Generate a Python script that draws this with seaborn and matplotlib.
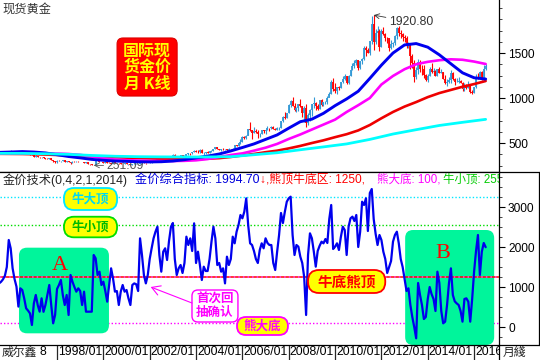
import numpy as np
import pandas as pd
import matplotlib
matplotlib.use("Agg")
import matplotlib.pyplot as plt
import matplotlib.transforms as mtransforms
from matplotlib.patches import FancyBboxPatch
from matplotlib.lines import Line2D
from matplotlib.ticker import MultipleLocator
import seaborn as sns

sns.set_style("white")
plt.rcParams['font.family'] = ['Liberation Sans', 'Noto Sans CJK SC', 'DejaVu Sans']
plt.rcParams['axes.unicode_minus'] = False

# ---------------- data (monthly, 1995/07 .. 2016/07) ----------------
close = [
    383, 382, 384, 383, 387, 387,
    405, 400, 396, 392, 390, 382, 385, 387, 379, 379, 371, 369,
    345, 358, 349, 340, 345, 334, 326, 325, 332, 311, 296, 290,
    304, 297, 301, 310, 293, 296, 288, 273, 294, 292, 294, 288,
    287, 287, 280, 286, 268, 262, 255, 255, 299, 299, 291, 290,
    283, 293, 279, 275, 272, 288, 276, 277, 273, 264, 269, 274,
    266, 267, 258, 263, 267, 270, 265, 273, 293, 279, 275, 277,
    282, 297, 301, 308, 326, 318, 304, 312, 324, 317, 319, 347,
    368, 347, 334, 336, 364, 346, 354, 375, 388, 386, 398, 416,
    399, 396, 427, 388, 393, 395, 391, 407, 415, 429, 452, 438,
    422, 435, 428, 435, 417, 435, 429, 433, 473, 470, 495, 513,
    569, 556, 582, 654, 643, 614, 633, 623, 599, 604, 646, 632,
    650, 665, 662, 678, 659, 648, 666, 672, 743, 789, 783, 834,
    923, 971, 916, 863, 885, 930, 913, 833, 884, 718, 815, 869,
    928, 942, 916, 883, 975, 927, 954, 955, 995, 1040, 1182, 1096,
    1081, 1118, 1113, 1180, 1213, 1244, 1169, 1248, 1307, 1358, 1386, 1421,
    1332, 1411, 1439, 1556, 1536, 1500, 1628, 1826, 1620, 1722, 1746, 1564,
    1740, 1711, 1669, 1664, 1559, 1604, 1614, 1688, 1773, 1719, 1713, 1675,
    1664, 1578, 1596, 1472, 1393, 1234, 1313, 1395, 1327, 1323, 1253, 1202,
    1244, 1326, 1284, 1296, 1250, 1322, 1282, 1287, 1211, 1172, 1182, 1199,
    1283, 1213, 1183, 1183, 1190, 1172, 1095, 1134, 1115, 1142, 1065, 1061,
    1118, 1238, 1233, 1290, 1215, 1320, 1351,
]
high = [
    388, 388, 387, 387, 390, 392,
    417, 416, 401, 397, 394, 391, 388, 390, 388, 384, 384, 373,
    368, 366, 355, 347, 348, 346, 335, 332, 337, 336, 315, 298,
    306, 306, 303, 314, 310, 299, 296, 292, 300, 302, 298, 296,
    292, 290, 289, 291, 290, 265, 264, 260, 300, 338, 300, 293,
    294, 313, 298, 287, 281, 292, 290, 280, 278, 275, 270, 275,
    273, 268, 268, 267, 290, 278, 271, 281, 294, 293, 280, 279,
    290, 300, 304, 310, 328, 330, 323, 316, 326, 325, 323, 350,
    375, 383, 352, 340, 371, 368, 362, 375, 392, 392, 400, 418,
    427, 417, 430, 432, 396, 405, 410, 412, 417, 432, 456, 458,
    438, 438, 447, 437, 436, 443, 430, 448, 475, 478, 497, 541,
    573, 574, 590, 657, 730, 650, 677, 653, 640, 614, 646, 648,
    654, 687, 670, 692, 686, 670, 681, 676, 744, 795, 845, 836,
    934, 975, 1011, 946, 905, 939, 987, 915, 913, 936, 828, 880,
    936, 1006, 960, 929, 982, 990, 958, 966, 1024, 1070, 1195, 1227,
    1162, 1125, 1137, 1181, 1249, 1265, 1246, 1252, 1310, 1388, 1424, 1431,
    1424, 1411, 1447, 1576, 1577, 1552, 1632, 1912, 1921, 1764, 1804, 1763,
    1763, 1791, 1720, 1677, 1667, 1640, 1627, 1695, 1790, 1798, 1754, 1723,
    1696, 1684, 1617, 1605, 1487, 1424, 1347, 1434, 1425, 1362, 1362, 1267,
    1270, 1345, 1392, 1331, 1315, 1325, 1345, 1322, 1287, 1255, 1208, 1238,
    1307, 1294, 1223, 1224, 1232, 1205, 1175, 1170, 1157, 1191, 1142, 1088,
    1123, 1263, 1282, 1303, 1304, 1362, 1375,
]
low = [
    381, 380, 380, 381, 380, 384,
    385, 397, 393, 388, 389, 380, 380, 384, 377, 377, 370, 366,
    343, 340, 346, 337, 339, 333, 318, 319, 319, 310, 294, 283,
    278, 295, 290, 300, 292, 290, 287, 271, 276, 290, 290, 285,
    284, 285, 278, 278, 267, 256, 252, 251, 254, 296, 288, 286,
    282, 283, 276, 273, 271, 273, 276, 272, 270, 263, 262, 268,
    263, 255, 256, 256, 262, 266, 264, 264, 270, 278, 272, 274,
    277, 282, 290, 300, 307, 315, 302, 301, 310, 315, 314, 318,
    344, 345, 324, 319, 335, 341, 340, 352, 371, 371, 378, 398,
    398, 393, 392, 386, 372, 382, 386, 389, 402, 411, 428, 433,
    418, 413, 424, 423, 414, 415, 418, 430, 433, 463, 468, 490,
    513, 540, 540, 584, 636, 542, 612, 611, 560, 564, 603, 611,
    603, 646, 636, 661, 654, 641, 644, 649, 672, 728, 772, 781,
    830, 895, 912, 855, 849, 861, 901, 786, 737, 681, 698, 744,
    800, 890, 865, 865, 880, 915, 908, 938, 934, 1017, 1040, 1075,
    1059, 1045, 1088, 1114, 1164, 1201, 1157, 1155, 1242, 1309, 1330, 1370,
    1309, 1327, 1382, 1420, 1462, 1496, 1478, 1603, 1535, 1603, 1681, 1523,
    1563, 1697, 1628, 1616, 1527, 1540, 1563, 1590, 1651, 1691, 1671, 1636,
    1627, 1555, 1555, 1321, 1339, 1180, 1208, 1272, 1292, 1251, 1227, 1187,
    1182, 1240, 1277, 1268, 1241, 1240, 1281, 1275, 1206, 1161, 1131, 1171,
    1167, 1197, 1142, 1175, 1170, 1162, 1077, 1077, 1098, 1107, 1052, 1046,
    1061, 1111, 1208, 1209, 1199, 1200, 1310,
]

# moving-average lines (month index, price)
blue_x = [0, 6, 12, 18, 24, 30, 36, 42, 48, 54, 60, 66, 72, 78, 84, 90, 96, 102, 108, 114,
          120, 126, 132, 138, 144, 150, 156, 162, 168, 174, 180, 186, 192, 198, 204, 210,
          216, 222, 228, 234, 240, 246, 252]
blue_y = [396, 400, 405, 400, 390, 370, 350, 335, 318, 308, 300, 296, 292, 290, 292, 300, 315, 335, 355, 378,
          412, 450, 490, 540, 590, 665, 737, 765, 830, 915, 990, 1075, 1218, 1365, 1500, 1590,
          1605, 1565, 1480, 1380, 1280, 1225, 1211]
mag_x = [0, 12, 24, 30, 36, 42, 48, 54, 60, 66, 72, 78, 84, 90, 96, 102, 108, 114, 120, 126,
         132, 138, 144, 150, 156, 162, 168, 174, 180, 186, 192, 198, 204, 210, 216, 222,
         228, 234, 240, 246, 252]
mag_y = [385, 386, 385, 383, 378, 368, 350, 330, 316, 310, 305, 302, 300, 300, 302, 308, 322, 345, 367, 385,
         415, 448, 490, 545, 595, 650, 705, 760, 845, 920, 1000, 1150, 1245, 1320, 1375, 1402,
         1420, 1430, 1425, 1405, 1378]
red_x = [0, 12, 24, 36, 48, 60, 72, 84, 96, 108, 114, 120, 126, 132, 138, 144, 150, 156, 162,
         168, 174, 180, 186, 192, 198, 204, 210, 216, 222, 228, 234, 240, 246, 252]
red_y = [380, 378, 372, 362, 352, 342, 333, 325, 320, 326, 332, 345, 362, 378, 398, 415, 440, 468, 500,
         530, 565, 598, 640, 700, 775, 845, 905, 955, 1010, 1055, 1090, 1125, 1155, 1189]
cyan_x = [0, 12, 24, 36, 48, 60, 72, 84, 96, 108, 120, 132, 144, 156, 168, 180, 192, 204, 216,
          228, 240, 252]
cyan_y = [385, 385, 381, 374, 362, 353, 348, 346, 345, 345, 348, 370, 392, 425, 457, 490, 540, 600, 648,
          695, 730, 763]

# composite gold indicator (monthly)
indicator = [
    1090, 1130, 1190, 1280, 1500, 2175, 1967, 1467, 1200, 1010,
    510, 967, 925, 717, 467, 410, 340, 50, 590, 800,
    550, 383, 717, 380, 550, 800, 1050, 550, 92, 300,
    950, 1050, 1175, 800, 550, 800, 300, 1300, 1133, 1000,
    883, 967, 900, 550, 883, 383, 383, 383, 383, 1800,
    1717, 1300, 1383, 1050, 1133, 900, 633, 1050, 1467, 1217,
    883, 900, 550, 883, 1050,
    883, 925, 717, 550, 1050, 1090, 1070, 900, 2217, 1800,
    1300, 1090, 1300, 1700, 1967, 2217, 2383, 2508, 1800, 1383,
    1883, 1967, 1675, 2150, 2500, 2600, 1700, 1300, 1467, 1550,
    1350, 1600, 2258, 2050, 2217, 1900, 2592, 1600, 1883, 1550,
    1175, 1508, 1400, 1400, 1700, 2133, 2508, 2217, 1550, 1600,
    1383, 1467, 1090, 1758, 1550, 1700, 2258, 2092, 2383, 2550,
    2800, 2717, 2883, 3217, 2550,
    2092, 2050, 1900, 1700, 1600, 1925, 2092, 1967, 2217, 2100,
    2050, 2050, 1600, 1425, 1883, 2300, 2850, 2600, 2883, 3133,
    3217, 3258, 2300, 1800, 2050, 2008, 1758, 1600, 1250, 300,
    1800, 2342, 2217, 1883, 1508, 1900, 2030, 2133, 2092, 2200,
    2100, 2700, 3050, 1950, 2008, 2092, 1925, 2250, 2508, 2425,
    1800, 2508, 2717, 2758, 2650, 2800, 2000, 2383, 3133, 3050,
    3217, 2400, 3350, 3450, 2700,
    2330, 2050, 2300, 2175, 1883, 1700, 1350, 1500, 1650, 2133,
    2300, 2383, 2092, 1700, 1500, 1200, 900, 967, 550, 250,
    0, -283, 1100, 800, 550, 200, 250, 700, 1000, 820,
    700, 400, 1383, 1100, 400, 92, 133, 550, 1100, 1467,
    800, 640, 590, 550, 400, 133, 700, 717, 633, 133,
    700, 1383, 1900, 2300, 1300, 1883, 2100, 1994.7,
]

levels = {"bull_top": 3250, "bull_small_top": 2550, "bear_top_bull_bottom": 1250, "bear_bottom": 100}
date_tick_idx = [30, 54, 78, 102, 126, 150, 174, 198, 222, 246]
date_tick_labels = ["1998/01", "2000/01", "2002/01", "2004/01", "2006/01",
                    "2008/01", "2010/01", "2012/01", "2014/01", "2016"]

# ---------------- figure ----------------
W, H = 540, 360
fig = plt.figure(figsize=(W / 100, H / 100), dpi=100)
ax1 = fig.add_axes([0, 1 - 172 / H, 499 / W, 172 / H])
ax2 = fig.add_axes([0, 1 - 345 / H, 499 / W, 173 / H])

XL = (0.47, 258.9)
ax1.set_xlim(*XL); ax1.set_ylim(178, 2089)
ax2.set_xlim(*XL); ax2.set_ylim(-450, 3875)

n = len(close)
xs = np.arange(n)
opens = [close[0]] + close[:-1]
UP, DN = '#3399d6', '#ff0000'
cols = [UP if c >= o else DN for o, c in zip(opens, close)]
ax1.vlines(xs, low, high, colors=cols, lw=0.8, zorder=2)
ax1.vlines(xs, opens, close, colors=cols, lw=1.3, zorder=2)

sns.lineplot(x=red_x, y=red_y, ax=ax1, color='#ee0000', lw=1.9, zorder=3)
sns.lineplot(x=mag_x, y=mag_y, ax=ax1, color='#ff00ff', lw=1.9, zorder=4)
sns.lineplot(x=blue_x, y=blue_y, ax=ax1, color='#0000ee', lw=2.1, zorder=5)
sns.lineplot(x=cyan_x, y=cyan_y, ax=ax1, color='#00ffff', lw=2.0, zorder=6)

sns.lineplot(x=xs, y=indicator, ax=ax2, color='#0000ee', lw=1.6, zorder=4)

for ax in (ax1, ax2):
    ax.set_xlabel(''); ax.set_ylabel('')
    for s in ax.spines.values():
        s.set_color('black'); s.set_linewidth(0.9)
    ax.spines['left'].set_visible(False)
    ax.yaxis.tick_right()
    ax.tick_params(axis='y', which='major', direction='out', length=4, width=0.8,
                   labelsize=8.6, pad=2.5, colors='black')
    ax.tick_params(axis='y', which='minor', direction='out', length=2, width=0.6, right=True)
    ax.grid(False)
ax1.spines['top'].set_visible(False)
ax1.set_yticks([500, 1000, 1500])
ax1.yaxis.set_minor_locator(MultipleLocator(125))
ax1.set_xticks([])
ax2.set_yticks([0, 1000, 2000, 3000])
ax2.yaxis.set_minor_locator(MultipleLocator(250))
ax2.set_xticks(date_tick_idx)
ax2.tick_params(axis='x', direction='out', length=11, width=0.9, labelbottom=False, bottom=True)
ax2.set_xticklabels([])

strip_clip = mtransforms.Bbox.from_extents(0, 0, 499, H)
blend = mtransforms.blended_transform_factory(ax2.transData, ax2.transAxes)
for t, lab in zip(date_tick_idx, date_tick_labels):
    tt = ax2.text(t + 0.6, -0.042, lab, transform=blend, ha='left', va='center',
                  fontsize=8.7, color='black')
    tt.set_clip_box(strip_clip)
    tt.set_clip_on(True)

# right-hand box and strip lines
for y0, y1, x0, x1 in [(1 - 172 / H, 1 - 172 / H, 499 / W, 1.0),
                       (1 - 345 / H, 1 - 345 / H, 499 / W, 1.0),
                       (1 - 172 / H, 1 - 345 / H, 538.5 / W, 538.5 / W),
                       (1 - 345 / H, 1.0 - 360 / H, 499 / W, 499 / W)]:
    fig.add_artist(Line2D([x0, x1], [y0, y1], color='black', lw=0.9))

# ---------------- rounded boxes helper ----------------
def rbox(ax, x0, x1, y0, y1, fc, ec, lw, r_px, z):
    p0 = ax.transData.transform((0, 0)); p1 = ax.transData.transform((1, 1))
    sx = p1[0] - p0[0]; sy = p1[1] - p0[1]
    patch = FancyBboxPatch((x0, y0), x1 - x0, y1 - y0,
                           boxstyle=f"round,pad=0,rounding_size={r_px / sx}",
                           mutation_aspect=sx / sy, fc=fc, ec=ec, lw=lw, zorder=z)
    ax.add_patch(patch)
    return patch

CJK = ['Noto Sans CJK SC', 'DejaVu Sans']
MINT = '#00f59b'
YEL = '#ffff00'

# lower panel level lines
ax2.axhline(levels["bear_bottom"], color='#ff00ff', lw=1.0, ls=(0, (1, 1.5)), zorder=1)
ax2.axhline(levels["bull_top"], color='#00e8ff', lw=1.0, ls=(0, (1, 1.5)), zorder=1)
ax2.axhline(levels["bull_small_top"], color='#00dd00', lw=1.0, ls=(0, (1, 1.5)), zorder=1)

rbox(ax2, 10.3, 56.9, -158, 1983, MINT, 'none', 0, 8, 2)
rbox(ax2, 210.3, 256.4, -450, 2425, MINT, 'none', 0, 8, 2)

ax2.axhline(levels["bear_top_bull_bottom"], color='#ff0000', lw=1.1, zorder=3)
ax2.axhline(levels["bear_top_bull_bottom"], color='#ff44ff', lw=1.1, ls=(0, (1, 2)), zorder=3)

ax2.text(31.5, 1550, 'A', family=['Liberation Serif'], fontsize=16, color='#ff0000',
         ha='center', va='center', zorder=6)
ax2.text(230, 1850, 'B', family=['Liberation Serif'], fontsize=16, color='#ff0000',
         ha='center', va='center', zorder=6)

rbox(ax2, 33.6, 61.1, 2925, 3475, YEL, '#00e8ff', 1.3, 10, 5)
ax2.text(47.3, 3200, '牛大顶', family=CJK, fontweight='bold', fontsize=9, color='#00d8f0',
         ha='center', va='center', zorder=6)
rbox(ax2, 33.6, 61.1, 2242, 2757, YEL, '#00dd00', 1.3, 10, 5)
ax2.text(47.3, 2500, '牛小顶', family=CJK, fontweight='bold', fontsize=9, color='#00bb00',
         ha='center', va='center', zorder=6)
rbox(ax2, 160, 200, 850, 1425, YEL, '#ff0000', 1.3, 11, 5)
ax2.text(180, 1137, '牛底熊顶', family=CJK, fontweight='bold', fontsize=10.5, color='#ff0000',
         ha='center', va='center', zorder=6)
rbox(ax2, 123.2, 149.6, -200, 250, YEL, '#ff00ff', 1.3, 9, 5)
ax2.text(136.4, 25, '熊大底', family=CJK, fontweight='bold', fontsize=9, color='#ff00ff',
         ha='center', va='center', zorder=6)
rbox(ax2, 99.9, 123.7, 125, 925, 'white', '#ff00ff', 1.0, 6, 5)
ax2.text(111.8, 525, '首次回\n抽确认', family=CJK, fontweight='bold', fontsize=9, color='#ff00ff',
         ha='center', va='center', linespacing=1.0, zorder=6)
ax2.annotate('', xy=(78.5, 1000), xytext=(99.9, 600),
             arrowprops=dict(arrowstyle='->,head_length=0.6,head_width=0.35', color='#ff00ff',
                             lw=0.8, shrinkA=0, shrinkB=0), zorder=6)

# lower panel title line (pieces placed at their pixel positions)
title_y = 1 - 180 / H
for px, s, c, fs in [(3, '金价技术(0,4,2,1,2014)', '#222222', 8.8),
                     (135, '金价综合指标: 1994.70', '#0000dd', 8.8),
                     (259, '↓', '#ff0000', 8.8),
                     (266, ',熊顶牛底区: 1250,', '#ff0000', 8.6),
                     (377, '熊大底: 100,', '#ff00ff', 8.3),
                     (443, '牛小顶: 2550', '#00cc00', 8.3)]:
    tt = fig.text(px / W, title_y, s, fontsize=fs, color=c, ha='left', va='center', zorder=7)
    tt.set_clip_box(ax2.bbox)
    tt.set_clip_on(True)

# upper panel annotations
rbox(ax1, 61.1, 92.2, 1022, 1667, '#ff0000', '#dd0000', 0.8, 6, 7)
ax1.text(76.7, 1345, '国际现\n货金价\n月 K线', family=CJK, fontweight='bold', fontsize=11.5,
         color='#ffff00', ha='center', va='center', linespacing=1.05, zorder=8)
ax1.annotate('1920.80', xy=(194, 1921), xytext=(202, 1844), ha='left', va='center',
             fontsize=8.8, color='#333333',
             arrowprops=dict(arrowstyle='->', color='#333333', lw=0.6, shrinkA=0, shrinkB=0),
             zorder=8)
ax1.annotate('251.09', xy=(49, 252), xytext=(55.8, 250), ha='left', va='center',
             fontsize=8.8, color='#555555',
             arrowprops=dict(arrowstyle='->', color='#555555', lw=0.6, shrinkA=0, shrinkB=0),
             zorder=2.5)

# figure texts
fig.text(2 / W, 1 - 9 / H, '现货黄金', family=CJK, fontsize=8.8, color='#333333',
         ha='left', va='center')
fig.text(2 / W, 1 - 352 / H, '威尔鑫', family=CJK, fontsize=8.5, color='#222222',
         ha='left', va='center')
fig.text(40 / W, 1 - 352 / H, '8', fontsize=8.7, color='black', ha='left', va='center')
fig.text(503 / W, 1 - 352 / H, '月綫', family=CJK, fontsize=8.5, color='#222222',
         ha='left', va='center', zorder=10)

fig.savefig('out.png', dpi=100, facecolor='white')
